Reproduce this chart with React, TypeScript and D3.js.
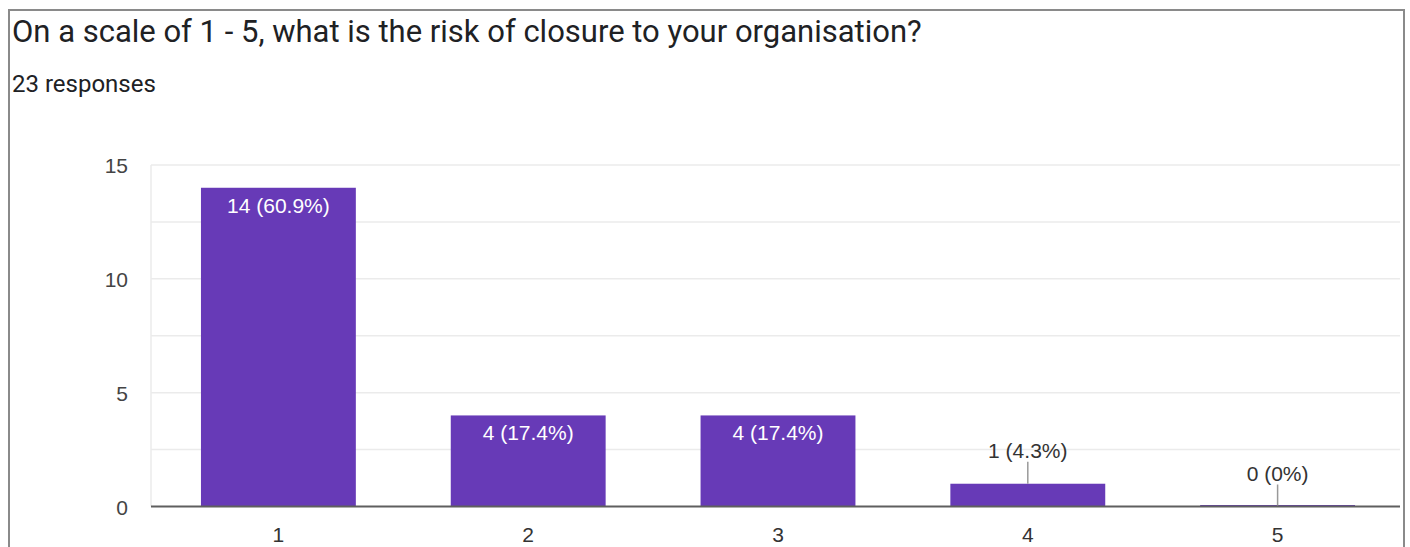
import { useEffect, useRef } from 'react';
import * as d3 from 'd3';

const categories = ['1', '2', '3', '4', '5'];
const counts = [14, 4, 4, 1, 0];
const percents = ['60.9%', '17.4%', '17.4%', '4.3%', '0%'];
const yTicks = [0, 5, 10, 15];
const gridValues = [2.5, 5, 7.5, 10, 12.5, 15];

const title = 'On a scale of 1 - 5, what is the risk of closure to your organisation?';
const subtitle = '23 responses';

const App = () => {
  const svgRef = useRef<SVGSVGElement>(null);

  useEffect(() => {
    if (!svgRef.current) return;
    const svg = d3.select(svgRef.current);
    svg.selectAll('*').remove();

    const headFont = 'Roboto, Arial, sans-serif';
    const font = '"Liberation Sans", Arial, sans-serif';

    // frame
    svg.append('rect')
      .attr('x', 9)
      .attr('y', 10)
      .attr('width', 1395)
      .attr('height', 560)
      .attr('fill', 'white')
      .attr('stroke', '#8a8a8a')
      .attr('stroke-width', 2);

    svg.append('text')
      .attr('x', 12)
      .attr('y', 42)
      .attr('font-family', headFont)
      .attr('font-size', '31px')
      .attr('fill', '#202124')
      .text(title);

    svg.append('text')
      .attr('x', 12)
      .attr('y', 92)
      .attr('font-family', headFont)
      .attr('font-size', '24px')
      .attr('fill', '#202124')
      .text(subtitle);

    const left = 151;
    const right = 1400;
    const top = 165;
    const bottom = 506.5;

    // bands run a little past the last gridline, as in the source
    const x = d3.scaleBand()
      .domain(categories)
      .range([left, 1405])
      .paddingInner(0.38)
      .paddingOuter(0.2);

    const y = d3.scaleLinear().domain([0, 15]).range([bottom, top]);

    // gridlines
    svg.append('g')
      .selectAll('line')
      .data(gridValues)
      .join('line')
      .attr('x1', left)
      .attr('x2', right)
      .attr('y1', d => y(d))
      .attr('y2', d => y(d))
      .attr('stroke', '#ebebeb')
      .attr('stroke-width', 1.5);

    svg.append('line')
      .attr('x1', left)
      .attr('x2', left)
      .attr('y1', top)
      .attr('y2', bottom)
      .attr('stroke', '#ebebeb')
      .attr('stroke-width', 1.5);

    // y tick labels
    svg.append('g')
      .selectAll('text')
      .data(yTicks)
      .join('text')
      .attr('x', 128)
      .attr('y', d => y(d) + 8)
      .attr('text-anchor', 'end')
      .attr('font-family', font)
      .attr('font-size', '21px')
      .attr('fill', '#444')
      .text(d => d);

    // bars
    const bars = svg.append('g');
    categories.forEach((c, i) => {
      const v = counts[i];
      const bx = x(c)!;
      const bw = x.bandwidth();
      const cx = bx + bw / 2;
      const h = Math.max(bottom - y(v), 1.5);
      bars.append('rect')
        .attr('x', bx)
        .attr('y', bottom - h)
        .attr('width', bw)
        .attr('height', h)
        .attr('fill', '#673ab7');

      const label = `${v} (${percents[i]})`;
      if (bottom - y(v) > 30) {
        bars.append('text')
          .attr('x', cx)
          .attr('y', y(v) + 25)
          .attr('text-anchor', 'middle')
          .attr('font-family', font)
          .attr('font-size', '21px')
          .attr('fill', 'white')
          .text(label);
      } else {
        const lineTop = y(v) - 22;
        bars.append('line')
          .attr('x1', cx)
          .attr('x2', cx)
          .attr('y1', y(v))
          .attr('y2', lineTop)
          .attr('stroke', '#999')
          .attr('stroke-width', 1.5);
        bars.append('text')
          .attr('x', cx)
          .attr('y', lineTop - 4)
          .attr('text-anchor', 'middle')
          .attr('font-family', font)
          .attr('font-size', '21px')
          .attr('fill', '#333')
          .text(label);
      }
    });

    // x axis baseline
    svg.append('line')
      .attr('x1', left)
      .attr('x2', right)
      .attr('y1', bottom)
      .attr('y2', bottom)
      .attr('stroke', '#5f5f5f')
      .attr('stroke-width', 2);

    svg.append('g')
      .selectAll('text')
      .data(categories)
      .join('text')
      .attr('x', d => x(d)! + x.bandwidth() / 2)
      .attr('y', 542)
      .attr('text-anchor', 'middle')
      .attr('font-family', font)
      .attr('font-size', '21px')
      .attr('fill', '#333')
      .text(d => d);
  }, []);

  return (
    <svg
      ref={svgRef}
      width="1410"
      height="547"
      style={{ position: 'absolute', left: 0, top: 0, background: 'white' }}
    />
  );
};

export default App;
